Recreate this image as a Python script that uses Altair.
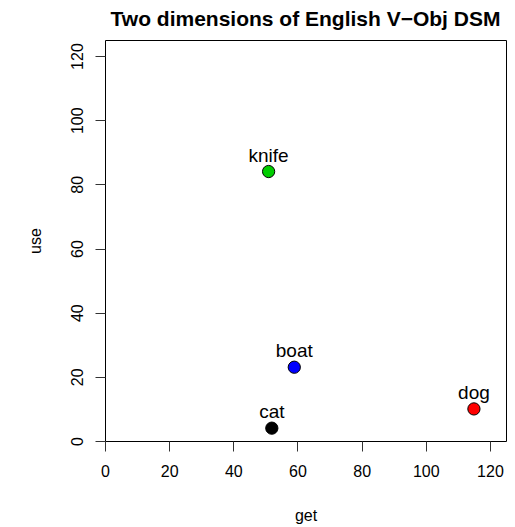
import altair as alt
import pandas as pd

words = ["knife", "cat", "boat", "dog"]
get_vals = [51, 52, 59, 115]
use_vals = [84, 4, 23, 10]
colors = ["#00CD00", "#000000", "#0000FF", "#FF0000"]

df = pd.DataFrame({"word": words, "get": get_vals, "use": use_vals, "col": colors})

FONT = "Liberation Sans"
ticks = [0, 20, 40, 60, 80, 100, 120]

xs = alt.Scale(domain=[0, 125], nice=False, zero=False)
ys = alt.Scale(domain=[0, 125], nice=False, zero=False)

xaxis = alt.Axis(values=ticks, domain=False, grid=False, tickSize=10, tickColor="#333",
                 labelPadding=12, labelFontSize=16, labelFont=FONT, labelColor="black",
                 title="get", titleFont=FONT, titleFontSize=16, titleFontWeight="normal",
                 titlePadding=28, titleColor="black", labelFlush=False)
yaxis = alt.Axis(values=ticks, domain=False, grid=False, tickSize=10, tickColor="#333",
                 labelPadding=10, labelFontSize=16, labelFont=FONT, labelColor="black",
                 labelAngle=-90, labelAlign="center", labelBaseline="bottom",
                 title="use", titleFont=FONT, titleFontSize=16, titleFontWeight="normal",
                 titlePadding=26, titleColor="black", labelFlush=False)

base = alt.Chart(df)

points = base.mark_point(filled=True, shape="circle", size=150, stroke="black",
                         strokeWidth=1, opacity=1).encode(
    x=alt.X("get:Q", scale=xs, axis=xaxis),
    y=alt.Y("use:Q", scale=ys, axis=yaxis),
    fill=alt.Fill("col:N", scale=None),
)

labels = base.mark_text(font=FONT, fontSize=19, dy=-10, baseline="alphabetic",
                        color="black").encode(
    x=alt.X("get:Q", scale=xs),
    y=alt.Y("use:Q", scale=ys),
    text="word:N",
)

chart = alt.layer(points, labels).properties(
    width=401, height=401,
    title=alt.TitleParams("Two dimensions of English V\u2212Obj DSM", font=FONT,
                          fontSize=21, fontWeight="bold", anchor="middle",
                          frame="group", baseline="alphabetic", offset=15, dy=22,
                          color="black"),
    autosize=alt.AutoSizeParams(type="none"),
    padding={"left": 97, "top": 32, "right": 1, "bottom": 86},
).configure(background="white").configure_view(stroke="black", strokeWidth=1)

chart.save("out.html", embed_options={"renderer": "svg", "actions": False})
